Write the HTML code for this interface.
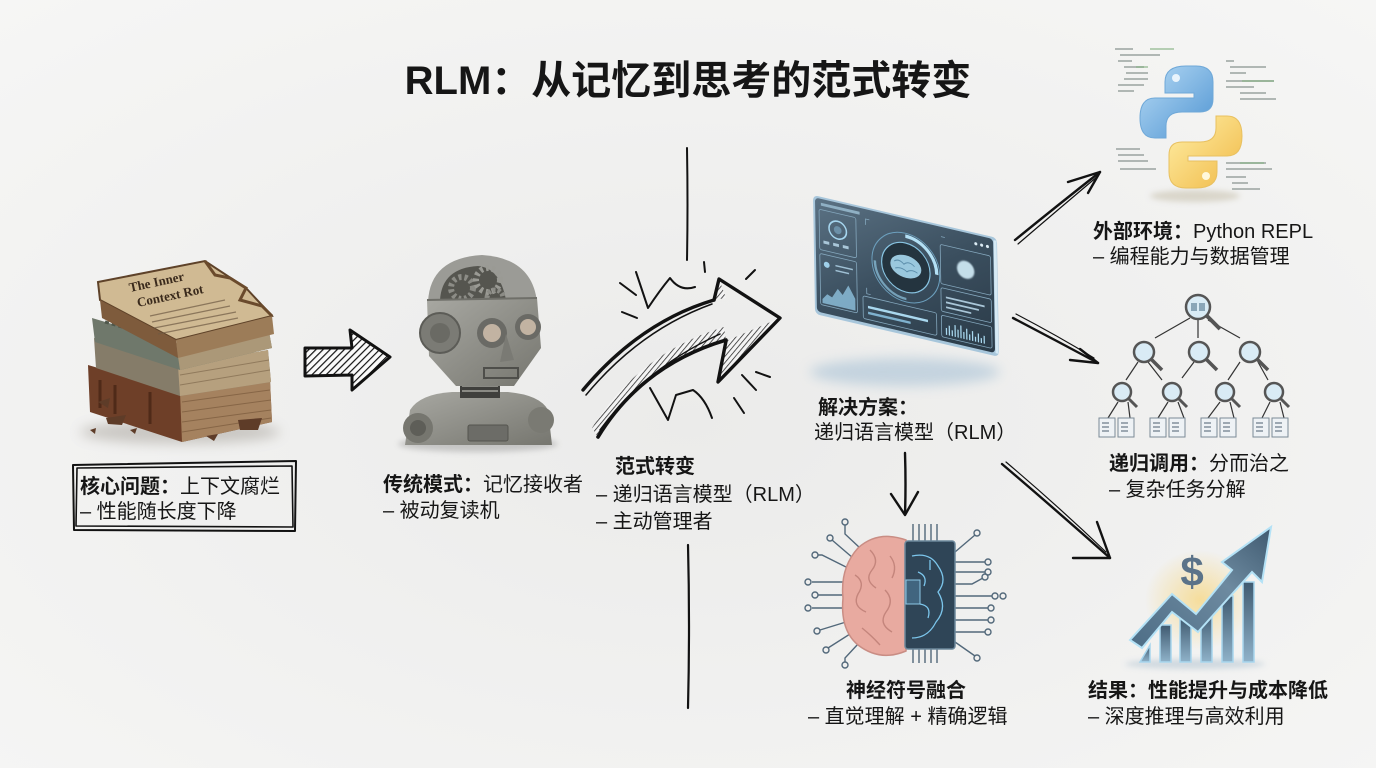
<!DOCTYPE html>
<html><head><meta charset="utf-8">
<style>
html,body{margin:0;padding:0;width:1376px;height:768px;overflow:hidden;background:#efefee;}
svg{display:block}
.t{font-family:"Liberation Sans","Noto Sans CJK SC",sans-serif;font-size:20px;fill:#161616}
.b{font-weight:700}
.sk{fill:none;stroke:#121212;stroke-linecap:round;stroke-linejoin:round}
</style></head><body>
<svg width="1376" height="768" viewBox="0 0 1376 768" xmlns="http://www.w3.org/2000/svg">
<defs>
<radialGradient id="bg" cx="50%" cy="55%" r="75%">
<stop offset="0" stop-color="#ebebea"/><stop offset="1" stop-color="#f6f6f5"/>
</radialGradient>
<filter id="bl6" x="-50%" y="-50%" width="200%" height="200%"><feGaussianBlur stdDeviation="6"/></filter>
<filter id="bl3" x="-50%" y="-50%" width="200%" height="200%"><feGaussianBlur stdDeviation="3"/></filter>
<filter id="bl1"><feGaussianBlur stdDeviation="0.8"/></filter>
<pattern id="hatch" width="5" height="5" patternUnits="userSpaceOnUse" patternTransform="rotate(45)"><rect width="5" height="5" fill="#fafafa"/><line x1="0" y1="0" x2="0" y2="5" stroke="#111" stroke-width="2.4"/></pattern>
<pattern id="hatch2" width="4" height="4" patternUnits="userSpaceOnUse" patternTransform="rotate(40)"><rect width="4" height="4" fill="#f4f4f4"/><line x1="0" y1="0" x2="0" y2="4" stroke="#222" stroke-width="1.5"/></pattern>
<linearGradient id="scr" x1="0" y1="0" x2="1" y2="1"><stop offset="0" stop-color="#5b7284"/><stop offset="0.5" stop-color="#3b4f5f"/><stop offset="1" stop-color="#2a3a47"/></linearGradient>
<linearGradient id="pyb" x1="0" y1="0" x2="1" y2="1"><stop offset="0" stop-color="#b7dbf5"/><stop offset="1" stop-color="#4f94d2"/></linearGradient>
<linearGradient id="pyy" x1="0" y1="0" x2="1" y2="1"><stop offset="0" stop-color="#fff0a8"/><stop offset="1" stop-color="#f0b845"/></linearGradient>
<linearGradient id="bar" x1="0" y1="0" x2="0" y2="1"><stop offset="0" stop-color="#3f5a70"/><stop offset="1" stop-color="#8fb2c9"/></linearGradient>
<linearGradient id="arr" x1="0" y1="1" x2="1" y2="0"><stop offset="0" stop-color="#4d6d86"/><stop offset="0.6" stop-color="#6d8aa0"/><stop offset="1" stop-color="#3f5a70"/></linearGradient>
<linearGradient id="metal" x1="0" y1="0" x2="1" y2="1"><stop offset="0" stop-color="#a8a8a2"/><stop offset="1" stop-color="#76766f"/></linearGradient>
<radialGradient id="yglow" cx="50%" cy="50%" r="50%"><stop offset="0" stop-color="#f7d57a" stop-opacity="0.9"/><stop offset="1" stop-color="#f7d57a" stop-opacity="0"/></radialGradient>
</defs>
<rect width="1376" height="768" fill="url(#bg)"/>

<!-- Title -->
<text x="688" y="94" text-anchor="middle" class="t" style="font-size:40px;font-weight:700">RLM：从记忆到思考的范式转变</text>

<!-- ===== Books ===== -->
<ellipse cx="180" cy="432" rx="100" ry="12" fill="#9a948c" opacity="0.45" filter="url(#bl6)"/>
<polygon points="88,365 180,392 270,380 272,422 182,442 90,412" fill="#6e3f28"/>
<polygon points="180,392 270,380 272,422 182,442" fill="#a5825f"/>
<g stroke="#7a5a3c" stroke-width="1" opacity="0.7"><line x1="182" y1="402" x2="270" y2="390"/><line x1="182" y1="412" x2="271" y2="400"/><line x1="182" y1="422" x2="271" y2="410"/><line x1="182" y1="432" x2="271" y2="418"/></g>
<path d="M100,380 L100,408 M115,385 L115,414 M150,392 L150,424" stroke="#4f2a18" stroke-width="3"/>
<polygon points="94,338 178,366 268,350 271,382 180,396 96,368" fill="#857c69"/>
<polygon points="178,366 268,350 271,382 180,396" fill="#b6a07e"/>
<g stroke="#806a4e" stroke-width="1" opacity="0.7"><line x1="180" y1="375" x2="269" y2="360"/><line x1="180" y1="385" x2="270" y2="370"/></g>
<polygon points="92,318 176,343 268,326 272,348 180,370 95,342" fill="#6f786b"/>
<polygon points="176,343 268,326 272,348 180,370" fill="#ab9878"/>
<path d="M105,322 L160,338" stroke="#4f574b" stroke-width="3" stroke-dasharray="4 3"/>
<polygon points="98,282 205,261 246,288 272,316 176,340 100,300" fill="#d0ba93" stroke="#5e4229" stroke-width="2"/>
<polygon points="176,340 272,316 274,334 178,358" fill="#9c7c58"/>
<polygon points="100,300 176,340 178,358 102,318" fill="#7e5b3c"/>
<path d="M205,261 L215,275 L230,278 L246,288 L240,300 L262,306 L272,316" fill="none" stroke="#6a4a2c" stroke-width="3"/>
<text x="130" y="292" font-family="Liberation Serif,serif" font-size="13" font-weight="700" fill="#3a2a1c" transform="rotate(-12 130 292)">The Inner</text>
<text x="138" y="307" font-family="Liberation Serif,serif" font-size="13" font-weight="700" fill="#3a2a1c" transform="rotate(-12 138 307)">Context Rot</text>
<g stroke="#6e5a44" stroke-width="1.2" opacity="0.7">
<line x1="150" y1="316" x2="225" y2="300"/><line x1="152" y1="322" x2="230" y2="306"/><line x1="154" y1="328" x2="236" y2="312"/><line x1="158" y1="334" x2="238" y2="318"/>
</g>
<g fill="#5e3c28"><polygon points="98,402 110,398 108,408"/><polygon points="106,418 126,415 122,425 108,424"/><polygon points="238,420 262,418 258,430 240,430"/><polygon points="206,436 218,434 214,441"/><polygon points="130,430 137,428 135,434"/><polygon points="90,430 96,428 95,434"/></g>

<!-- hatched arrow -->
<polygon points="305,348 352,348 350,330 390,357 352,390 352,375 305,376" fill="url(#hatch)" stroke="#111" stroke-width="3" stroke-linejoin="round"/>

<!-- ===== Robot ===== -->
<ellipse cx="478" cy="444" rx="80" ry="8" fill="#888" opacity="0.4" filter="url(#bl3)"/>
<path d="M405,445 L410,410 Q420,394 452,392 L508,392 Q540,395 548,410 L552,445 Z" fill="url(#metal)"/>
<circle cx="418" cy="428" r="15" fill="#76766f"/><circle cx="418" cy="428" r="8" fill="#5e5e58"/>
<circle cx="541" cy="420" r="13" fill="#7a7a73"/>
<rect x="468" y="425" width="40" height="16" rx="2" fill="#6c6c67" stroke="#55554f"/>
<rect x="460" y="376" width="40" height="22" fill="#3f3f3c"/>
<g stroke="#8a8a84" stroke-width="2"><line x1="462" y1="381" x2="498" y2="381"/><line x1="462" y1="386" x2="498" y2="386"/><line x1="462" y1="391" x2="498" y2="391"/></g>
<path d="M428,302 Q430,258 482,255 Q532,258 537,302 Z" fill="#9b9b96"/>
<path d="M440,300 Q442,268 478,266 Q500,268 506,300 Z" fill="#55554f"/>
<circle cx="462" cy="288" r="11" fill="none" stroke="#8c8c86" stroke-width="6" stroke-dasharray="3 3"/>
<circle cx="488" cy="280" r="12" fill="none" stroke="#9a9a94" stroke-width="6" stroke-dasharray="3 3"/>
<circle cx="495" cy="298" r="8" fill="none" stroke="#8c8c86" stroke-width="5" stroke-dasharray="3 2"/>
<path d="M427,300 L537,298 L541,348 L514,386 L456,386 L429,356 Z" fill="url(#metal)"/>
<line x1="427" y1="300" x2="537" y2="298" stroke="#6f6f69" stroke-width="2"/>
<circle cx="440" cy="333" r="20" fill="#7b7b75" stroke="#5c5c57" stroke-width="2"/>
<circle cx="440" cy="333" r="10" fill="#6a6a64"/>
<circle cx="492" cy="333" r="15" fill="#6a6a65"/><circle cx="492" cy="333" r="9" fill="#c2b3a2"/>
<circle cx="528" cy="327" r="13" fill="#6a6a65"/><circle cx="528" cy="327" r="8" fill="#c2b3a2"/>
<polygon points="506,334 514,360 500,362" fill="#7a7a74"/>
<rect x="484" y="368" width="34" height="10" fill="none" stroke="#4e4e4a" stroke-width="2"/>

<!-- left box -->
<path class="sk" stroke-width="2" d="M73,465 L296,461 L295,531 L74,530 Z"/>
<path class="sk" stroke-width="1.6" d="M77,468 L292,466 L293,527 L76,526 Z"/>
<text class="t" x="80" y="493"><tspan class="b">核心问题：</tspan>上下文腐烂</text>
<text class="t" x="80" y="518">– 性能随长度下降</text>

<text class="t" x="383" y="491"><tspan class="b">传统模式：</tspan>记忆接收者</text>
<text class="t" x="383" y="517">– 被动复读机</text>

<!-- center lines -->
<path class="sk" stroke-width="2" d="M687,148 Q688,205 687,260"/>
<path class="sk" stroke-width="2.2" d="M688,545 Q690,625 688,708"/>

<!-- curved shift arrow -->
<path d="M598,437 Q642,365 726,340 L724,327 Q640,352 592,428 Z" fill="url(#hatch2)"/>
<polygon points="780,318 718,382 726,341" fill="url(#hatch2)"/>
<polygon points="713,300 719,279 726,298" fill="url(#hatch2)"/>
<path class="sk" stroke-width="3.4" d="M583,390 Q640,322 714,300"/>
<path class="sk" stroke-width="1.5" d="M586,395 Q640,330 712,304"/>
<path class="sk" stroke-width="3.4" d="M714,300 L719,279 L780,318 L718,382 L726,341"/>
<path class="sk" stroke-width="3.6" d="M598,437 Q642,365 726,340"/>
<path class="sk" stroke-width="1.5" d="M600,430 Q645,368 720,334"/>
<g class="sk" stroke-width="2">
<line x1="620" y1="283" x2="636" y2="295"/>
<line x1="622" y1="312" x2="637" y2="318"/>
<path d="M636,272 L648,308 Q660,290 670,278 Q680,292 695,287"/>
<line x1="704" y1="262" x2="705" y2="272"/>
<line x1="746" y1="279" x2="755" y2="270"/>
<path d="M650,388 L668,420 L676,395 L693,390 Q705,398 712,418"/>
<line x1="734" y1="398" x2="744" y2="413"/>
<line x1="742" y1="375" x2="756" y2="390"/>
<line x1="756" y1="372" x2="770" y2="377"/>
</g>

<text class="t b" x="655" y="473" text-anchor="middle">范式转变</text>
<text class="t" x="596" y="501">– 递归语言模型（RLM）</text>
<text class="t" x="596" y="528">– 主动管理者</text>

<!-- ===== Tablet ===== -->
<ellipse cx="905" cy="372" rx="95" ry="14" fill="#a9c2d6" opacity="0.6" filter="url(#bl6)"/>
<g transform="matrix(0.968,0.226,0.017,0.983,813,195)">
<rect x="0" y="0" width="190" height="121" rx="5" fill="#a7c6db"/>
<rect x="2" y="2" width="184" height="116" rx="4" fill="url(#scr)"/>
<rect x="8" y="6" width="40" height="3" fill="#8fb0c4"/>
<g fill="none" stroke="#86a9bf" stroke-width="0.8">
<rect x="6" y="13" width="38" height="41" rx="2"/>
<rect x="6" y="58" width="38" height="52" rx="2"/>
<rect x="50" y="91" width="76" height="23" rx="2"/>
<rect x="131" y="20" width="52" height="40" rx="2"/>
<rect x="131" y="64" width="52" height="24" rx="2"/>
<rect x="131" y="92" width="52" height="22" rx="2"/>
<path d="M58,12 L54,12 L54,18 M132,12 L136,12 M54,82 L54,88 L58,88"/>
</g>
<circle cx="25" cy="30" r="9" fill="none" stroke="#a6d6ef" stroke-width="1.6"/>
<circle cx="25" cy="30" r="4" fill="#6c90a8"/>
<g fill="#a9c6d8"><rect x="10" y="44" width="6" height="3"/><rect x="20" y="44" width="6" height="3"/><rect x="30" y="44" width="6" height="3"/></g>
<path d="M8,104 L13,98 L18,100 L24,90 L29,95 L35,84 L42,96 L42,108 L8,108 Z" fill="#8fc2de" opacity="0.8"/>
<circle cx="13" cy="68" r="3" fill="#9fd0ea"/>
<g fill="#9fc0d4"><rect x="22" y="66" width="18" height="1.5"/><rect x="22" y="71" width="14" height="1.5"/></g>
<circle cx="95" cy="52" r="35" fill="none" stroke="#6c9fbd" stroke-width="1"/>
<path d="M95,20 A32,32 0 0 1 127,52" fill="none" stroke="#b3e0f5" stroke-width="3.5"/>
<path d="M95,84 A32,32 0 0 1 63,52" fill="none" stroke="#8ec4e0" stroke-width="2.5" opacity="0.7"/>
<circle cx="95" cy="52" r="25" fill="#24343f" stroke="#88c4e2" stroke-width="1.2"/>
<ellipse cx="95" cy="51" rx="16" ry="11.5" fill="#a7d8f0" opacity="0.9"/>
<path d="M83,48 Q88,44 93,49 Q98,44 104,49 M84,55 Q90,52 96,56 Q101,52 107,55" fill="none" stroke="#5c8eab" stroke-width="1"/>
<rect x="55" y="100" width="62" height="2.5" fill="#a9d8ef"/>
<rect x="55" y="106" width="44" height="2.5" fill="#7fb2cf"/>
<circle cx="157" cy="40" r="9" fill="#d4eef9" opacity="0.9" filter="url(#bl1)"/>
<g fill="#a9c6d8"><rect x="136" y="72" width="40" height="1.8"/><rect x="136" y="77" width="34" height="1.8"/><rect x="136" y="82" width="26" height="1.8"/></g>
<path d="M136,111 L136,104 M139,111 L139,101 M142,111 L142,105 M145,111 L145,99 M148,111 L148,103 M151,111 L151,98 M154,111 L154,104 M157,111 L157,100 M160,111 L160,105 M163,111 L163,101 M166,111 L166,106 M169,111 L169,102 M172,111 L172,106 M175,111 L175,103" stroke="#a9d8ef" stroke-width="1.3"/>
<g fill="#dcecf5"><circle cx="168" cy="11" r="1.6"/><circle cx="174" cy="11" r="1.6"/><circle cx="180" cy="11" r="1.6"/></g>
<line x1="188" y1="3" x2="188" y2="118" stroke="#d6eaf5" stroke-width="3"/>
</g>

<text class="t b" x="868" y="414" text-anchor="middle">解决方案：</text>
<text class="t" x="814" y="439">递归语言模型（RLM）</text>

<!-- down arrow -->
<path class="sk" stroke-width="2.4" d="M905,453 Q906,485 905,514"/>
<path class="sk" stroke-width="2.4" d="M891,494 L905,515 L918,492"/>

<!-- ===== brain chip ===== -->
<g fill="none" stroke="#52687a" stroke-width="1.4">
<path d="M860,548 L845,534 L845,525"/><circle cx="845" cy="522" r="3"/>
<path d="M853,558 L832,540"/><circle cx="830" cy="538" r="3"/>
<path d="M848,568 L822,555 L818,555"/><circle cx="815" cy="555" r="3"/>
<path d="M845,582 L812,582"/><circle cx="808" cy="582" r="3"/>
<path d="M843,595 L818,595"/><circle cx="815" cy="595" r="3"/>
<path d="M843,608 L812,608"/><circle cx="808" cy="608" r="3"/>
<path d="M846,622 L820,630"/><circle cx="817" cy="631" r="3"/>
<path d="M850,634 L828,648"/><circle cx="826" cy="650" r="3"/>
<path d="M858,644 L845,658 L845,662"/><circle cx="845" cy="665" r="3"/>
<path d="M955,552 L975,535"/><circle cx="977" cy="533" r="3"/>
<path d="M955,562 L985,562"/><circle cx="988" cy="562" r="3"/>
<path d="M955,572 L985,572"/><circle cx="988" cy="572" r="3"/>
<path d="M955,584 L972,584 L983,578"/><circle cx="985" cy="577" r="3"/>
<path d="M955,596 L992,596"/><circle cx="995" cy="596" r="3"/><circle cx="1003" cy="596" r="3"/>
<path d="M955,608 L988,608"/><circle cx="991" cy="608" r="3"/>
<path d="M955,620 L988,620"/><circle cx="991" cy="620" r="3"/>
<path d="M955,632 L985,632"/><circle cx="988" cy="632" r="3"/>
<path d="M955,642 L975,656"/><circle cx="977" cy="658" r="3"/>
<path d="M913,542 L913,524 M919,542 L919,524 M925,542 L925,524 M931,542 L931,524 M937,542 L937,524"/>
<path d="M913,648 L913,663 M919,648 L919,663 M925,648 L925,663 M931,648 L931,663 M937,648 L937,663"/>
</g>
<path d="M906,540 Q878,530 858,548 Q840,568 843,598 Q840,630 858,645 Q880,662 906,651 Z" fill="#e8aaa0" stroke="#c98d84" stroke-width="1.5"/>
<g fill="none" stroke="#c4857c" stroke-width="1.4">
<path d="M870,550 Q880,560 872,570 Q864,580 876,588"/>
<path d="M855,575 Q866,582 858,594 Q852,606 866,612"/>
<path d="M885,590 Q895,600 886,612 Q878,624 892,632"/>
<path d="M862,628 Q872,636 880,645"/>
<path d="M890,556 Q898,566 892,578"/>
</g>
<rect x="905" y="541" width="50" height="108" rx="3" fill="#2f4557" stroke="#6c889c" stroke-width="1.5"/>
<g fill="none" stroke="#7cc6ec" stroke-width="1.3">
<path d="M912,556 Q930,552 938,566 Q948,580 938,592 Q948,608 936,622 Q928,638 912,638"/>
<path d="M918,572 Q928,576 924,586 M920,604 Q932,606 928,618 M930,560 L930,570"/>
</g>
<rect x="906" y="580" width="14" height="24" fill="#41657f" stroke="#8cc7e6"/>

<text class="t b" x="906" y="697" text-anchor="middle">神经符号融合</text>
<text class="t" x="808" y="723">– 直觉理解 + 精确逻辑</text>

<!-- right arrows -->
<g class="sk" stroke-width="2.4">
<path d="M1015,240 Q1058,205 1100,172"/>
<path d="M1018,244 Q1060,208 1098,176" stroke-width="1.2"/>
<path d="M1068,182 L1100,172 L1088,193"/>
<path d="M1013,318 Q1055,340 1098,363"/>
<path d="M1016,314 Q1058,336 1094,358" stroke-width="1.2"/>
<path d="M1070,360 L1098,363 L1080,349"/>
<path d="M1002,464 Q1056,510 1110,558"/>
<path d="M1006,462 Q1058,506 1106,552" stroke-width="1.2"/>
<path d="M1073,558 L1110,558 L1097,522"/>
</g>

<!-- ===== Python ===== -->
<ellipse cx="1195" cy="196" rx="45" ry="6" fill="#c9c3b0" opacity="0.6" filter="url(#bl3)"/>
<g fill="#9aa3a0" opacity="0.75">
<rect x="1115" y="48" width="18" height="2"/><rect x="1120" y="54" width="40" height="2"/><rect x="1118" y="60" width="14" height="2"/><rect x="1124" y="66" width="20" height="2"/><rect x="1126" y="72" width="22" height="2"/><rect x="1124" y="78" width="24" height="2"/><rect x="1118" y="84" width="26" height="2"/><rect x="1118" y="90" width="16" height="2"/>
<rect x="1226" y="60" width="8" height="2"/><rect x="1230" y="66" width="36" height="2"/><rect x="1230" y="72" width="16" height="2"/><rect x="1226" y="80" width="48" height="2"/><rect x="1226" y="86" width="28" height="2"/><rect x="1240" y="92" width="26" height="2"/><rect x="1240" y="98" width="36" height="2"/>
<rect x="1116" y="148" width="24" height="2"/><rect x="1118" y="154" width="26" height="2"/><rect x="1118" y="160" width="30" height="2"/><rect x="1120" y="168" width="36" height="2"/>
<rect x="1226" y="162" width="40" height="2"/><rect x="1226" y="168" width="46" height="2"/><rect x="1226" y="176" width="20" height="2"/><rect x="1232" y="182" width="16" height="2"/><rect x="1232" y="188" width="28" height="2"/>
</g>
<g fill="#8cb58a" opacity="0.6"><rect x="1150" y="48" width="24" height="2"/><rect x="1136" y="66" width="12" height="2"/><rect x="1242" y="80" width="32" height="2"/><rect x="1240" y="162" width="24" height="2"/></g>
<path d="M1186,66 Q1165,66 1165,82 L1165,93 L1194,93 L1194,98 L1155,98 Q1140,98 1140,118 Q1140,138 1155,138 L1166,138 L1166,126 Q1166,112 1182,112 L1200,112 Q1213,112 1213,99 L1213,82 Q1213,66 1196,66 Z" fill="url(#pyb)" stroke="#6fa8d8" stroke-width="1"/>
<path d="M1196,188 Q1217,188 1217,172 L1217,161 L1188,161 L1188,156 L1227,156 Q1242,156 1242,136 Q1242,116 1227,116 L1216,116 L1216,128 Q1216,142 1200,142 L1182,142 Q1169,142 1169,155 L1169,172 Q1169,188 1186,188 Z" fill="url(#pyy)" stroke="#e8c060" stroke-width="1"/>
<circle cx="1176" cy="78" r="4" fill="#e9f4fc"/>
<circle cx="1206" cy="176" r="4" fill="#fff8dc"/>

<text class="t" x="1093" y="238"><tspan class="b">外部环境：</tspan>Python REPL</text>
<text class="t" x="1093" y="263">– 编程能力与数据管理</text>

<!-- ===== Tree ===== -->
<g stroke="#333" stroke-width="1.2" fill="none">
<path d="M1190,318 L1155,338 M1198,320 L1198,338 M1208,320 L1240,338"/>
<path d="M1138,362 L1126,380 M1148,362 L1162,380 M1194,362 L1182,378 M1240,362 L1228,380 M1258,362 L1268,380"/>
<path d="M1118,402 L1108,418 M1128,402 L1130,418 M1168,402 L1158,418 M1178,402 L1184,418 M1220,402 L1208,418 M1230,402 L1234,418 M1270,402 L1262,418 M1280,402 L1284,418"/>
</g>
<g stroke="#555" stroke-width="2.5" fill="#d9ebf5">
<line x1="1207" y1="316" x2="1220" y2="329" stroke-width="4"/>
<circle cx="1198" cy="307" r="12"/>
<line x1="1151" y1="359" x2="1162" y2="370" stroke-width="3.5"/><circle cx="1144" cy="352" r="10"/>
<line x1="1206" y1="359" x2="1217" y2="370" stroke-width="3.5"/><circle cx="1199" cy="352" r="10"/>
<line x1="1257" y1="359" x2="1268" y2="370" stroke-width="3.5"/><circle cx="1250" cy="352" r="10"/>
<line x1="1128" y1="398" x2="1137" y2="407" stroke-width="3"/><circle cx="1122" cy="392" r="9"/>
<line x1="1178" y1="398" x2="1187" y2="407" stroke-width="3"/><circle cx="1172" cy="392" r="9"/>
<line x1="1231" y1="398" x2="1240" y2="407" stroke-width="3"/><circle cx="1225" cy="392" r="9"/>
<line x1="1280" y1="398" x2="1289" y2="407" stroke-width="3"/><circle cx="1274" cy="392" r="9"/>
</g>
<g fill="#8aa6b8"><rect x="1191" y="303" width="6" height="8"/><rect x="1199" y="303" width="6" height="8"/></g>
<g fill="#eef2f5" stroke="#7b8a96" stroke-width="1">
<rect x="1099" y="418" width="16" height="19"/><rect x="1118" y="418" width="16" height="19"/>
<rect x="1150" y="418" width="16" height="19"/><rect x="1169" y="418" width="16" height="19"/>
<rect x="1201" y="418" width="16" height="19"/><rect x="1220" y="418" width="16" height="19"/>
<rect x="1253" y="418" width="16" height="19"/><rect x="1272" y="418" width="16" height="19"/>
</g>
<g stroke="#6d7d8a" stroke-width="1.2">
<path d="M1102,423 L1109,423 M1102,427 L1109,427 M1102,431 L1109,431 M1121,423 L1128,423 M1121,427 L1128,427 M1121,431 L1128,431 M1153,423 L1160,423 M1153,427 L1160,427 M1153,431 L1160,431 M1172,423 L1179,423 M1172,427 L1179,427 M1172,431 L1179,431 M1204,423 L1211,423 M1204,427 L1211,427 M1204,431 L1211,431 M1223,423 L1230,423 M1223,427 L1230,427 M1223,431 L1230,431 M1256,423 L1263,423 M1256,427 L1263,427 M1256,431 L1263,431 M1275,423 L1282,423 M1275,427 L1282,427 M1275,431 L1282,431"/>
</g>

<text class="t" x="1109" y="470"><tspan class="b">递归调用：</tspan>分而治之</text>
<text class="t" x="1109" y="496">– 复杂任务分解</text>

<!-- ===== Chart ===== -->
<ellipse cx="1200" cy="600" rx="55" ry="50" fill="url(#yglow)" opacity="0.8"/>
<ellipse cx="1195" cy="664" rx="70" ry="5" fill="#b8c8d4" opacity="0.6" filter="url(#bl3)"/>
<g fill="url(#bar)" stroke="#a8d6ee" stroke-width="1.5">
<polygon points="1140,662 1150,645 1150,662"/>
<rect x="1160" y="625" width="11" height="37"/>
<rect x="1180" y="618" width="11" height="44"/>
<rect x="1201" y="612" width="11" height="50"/>
<rect x="1222" y="596" width="11" height="66"/>
<rect x="1243" y="582" width="11" height="80"/>
</g>
<path d="M1130,640 L1172,594 L1196,614 L1232,570 L1222,562 L1271,527 L1262,582 L1252,572 L1198,632 L1172,612 L1142,648 Z" fill="url(#arr)" stroke="#b4e2f6" stroke-width="2"/>
<text x="1192" y="586" text-anchor="middle" font-family="Liberation Sans,sans-serif" font-size="42" font-weight="700" fill="#5b7389">$</text>

<text class="t b" x="1088" y="697">结果：性能提升与成本降低</text>
<text class="t" x="1088" y="723">– 深度推理与高效利用</text>
</svg>
</body></html>
